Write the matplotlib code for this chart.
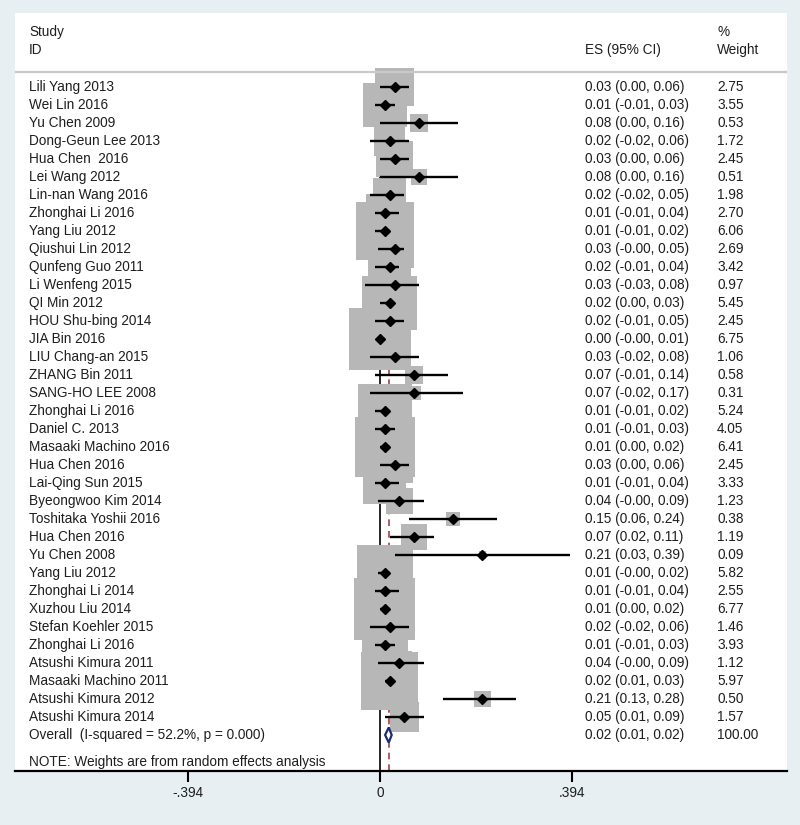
import matplotlib
matplotlib.use("Agg")
import matplotlib.pyplot as plt
from matplotlib.patches import Rectangle, Polygon
import numpy as np

plt.rcParams['font.family'] = ['Liberation Sans', 'DejaVu Sans']

studies = ['Lili Yang 2013', 'Wei Lin 2016', 'Yu Chen 2009', 'Dong-Geun Lee 2013',
           'Hua Chen  2016', 'Lei Wang 2012', 'Lin-nan Wang 2016', 'Zhonghai Li 2016',
           'Yang Liu 2012', 'Qiushui Lin 2012', 'Qunfeng Guo 2011', 'Li Wenfeng 2015',
           'QI Min 2012', 'HOU Shu-bing 2014', 'JIA Bin 2016', 'LIU Chang-an 2015',
           'ZHANG Bin 2011', 'SANG-HO LEE 2008', 'Zhonghai Li 2016', 'Daniel C. 2013',
           'Masaaki Machino 2016', 'Hua Chen 2016', 'Lai-Qing Sun 2015', 'Byeongwoo Kim 2014',
           'Toshitaka Yoshii 2016', 'Hua Chen 2016', 'Yu Chen 2008', 'Yang Liu 2012',
           'Zhonghai Li 2014', 'Xuzhou Liu 2014', 'Stefan Koehler 2015', 'Zhonghai Li 2016',
           'Atsushi Kimura 2011', 'Masaaki Machino 2011', 'Atsushi Kimura 2012',
           'Atsushi Kimura 2014']
es = [0.03, 0.01, 0.08, 0.02, 0.03, 0.08, 0.02, 0.01, 0.01, 0.03, 0.02, 0.03,
      0.02, 0.02, 0.00, 0.03, 0.07, 0.07, 0.01, 0.01, 0.01, 0.03, 0.01, 0.04,
      0.15, 0.07, 0.21, 0.01, 0.01, 0.01, 0.02, 0.01, 0.04, 0.02, 0.21, 0.05]
lo = [0.00, -0.01, 0.00, -0.02, 0.00, 0.00, -0.02, -0.01, -0.01, -0.004, -0.01, -0.03,
      0.00, -0.01, -0.004, -0.02, -0.01, -0.02, -0.01, -0.01, 0.00, 0.00, -0.01, -0.004,
      0.06, 0.02, 0.03, -0.004, -0.01, 0.00, -0.02, -0.01, -0.004, 0.01, 0.13, 0.01]
hi = [0.06, 0.03, 0.16, 0.06, 0.06, 0.16, 0.05, 0.04, 0.02, 0.05, 0.04, 0.08,
      0.03, 0.05, 0.01, 0.08, 0.14, 0.17, 0.02, 0.03, 0.02, 0.06, 0.04, 0.09,
      0.24, 0.11, 0.39, 0.02, 0.04, 0.02, 0.06, 0.03, 0.09, 0.03, 0.28, 0.09]
weight = [2.75, 3.55, 0.53, 1.72, 2.45, 0.51, 1.98, 2.70, 6.06, 2.69, 3.42, 0.97,
          5.45, 2.45, 6.75, 1.06, 0.58, 0.31, 5.24, 4.05, 6.41, 2.45, 3.33, 1.23,
          0.38, 1.19, 0.09, 5.82, 2.55, 6.77, 1.46, 3.93, 1.12, 5.97, 0.50, 1.57]

overall_label = 'Overall  (I-squared = 52.2%, p = 0.000)'
overall_es, overall_lo, overall_hi, overall_w = 0.018, 0.0105, 0.024, 100.00
xticks = [-0.394, 0, 0.394]
xticklabels = ['-.394', '0', '.394']

bg = '#e7eff2'
txt = '#1e1e1e'
fs = 9.8

fig = plt.figure(figsize=(8, 8.25), dpi=100, facecolor=bg)
# white plot region: x 15..787 px, y 13..771 px
ax = fig.add_axes([15 / 800, (825 - 771) / 825, 772 / 800, 758 / 825])
ax.set_facecolor('white')

px_per_x = 487.0   # pixels per unit effect size
px_per_row = 18.0
ax.set_xlim((15 - 380) / px_per_x, (787 - 380) / px_per_x)
ax.set_ylim((771 - 87) / px_per_row, (13 - 87) / px_per_row)

n = len(studies)
rows = np.arange(n)

# weight boxes (area proportional to weight), drawn over the reference lines
k = 23.5
for r, e, w in zip(rows, es, weight):
    side = k * np.sqrt(w)
    bw = side / px_per_x
    bh = side / px_per_row
    ax.add_patch(Rectangle((e - bw / 2, r - bh / 2), bw, bh,
                           facecolor='#b7b7b7', edgecolor='none', zorder=2))

# null line and overall line
ytop = -0.6
ybot = (771 - 87) / px_per_row
ax.plot([0, 0], [ytop, ybot], color='black', lw=1.2, zorder=1)
ax.plot([overall_es, overall_es], [ytop, ybot], color='#b03a48', lw=1.2,
        dashes=(4, 3), zorder=1)

# CIs and point estimates
ax.hlines(rows, lo, hi, color='black', lw=1.7, zorder=3)
ax.plot(es, rows, linestyle='none', marker='D', markersize=4.6, color='black', zorder=4)

# overall diamond
r_ov = n
dh = 0.42
ax.add_patch(Polygon([[overall_lo, r_ov], [overall_es, r_ov - dh],
                      [overall_hi, r_ov], [overall_es, r_ov + dh]],
                     closed=True, facecolor='white', edgecolor='#1c2a80', lw=1.6, zorder=5))

# text columns
x_id = (29 - 380) / px_per_x
x_es = (585 - 380) / px_per_x
x_w = (717 - 380) / px_per_x
for r, s, e, l, h, w in zip(rows, studies, es, lo, hi, weight):
    ax.text(x_id, r, s, fontsize=fs, color=txt, va='center')
    ax.text(x_es, r, f'{e:.2f} ({l:.2f}, {h:.2f})', fontsize=fs, color=txt, va='center')
    ax.text(x_w, r, f'{w:.2f}', fontsize=fs, color=txt, va='center')
ax.text(x_id, r_ov, overall_label, fontsize=fs, color=txt, va='center')
ax.text(x_es, r_ov, f'{overall_es:.2f} ({overall_lo:.2f}, {overall_hi:.2f})',
        fontsize=fs, color=txt, va='center')
ax.text(x_w, r_ov, f'{overall_w:.2f}', fontsize=fs, color=txt, va='center')
ax.text(x_id, (762 - 87) / px_per_row, 'NOTE: Weights are from random effects analysis',
        fontsize=fs, color=txt, va='center')

# header
y_h1 = (32 - 87) / px_per_row
y_h2 = (50 - 87) / px_per_row
ax.text(x_id, y_h1, 'Study', fontsize=fs, color=txt, va='center')
ax.text(x_id, y_h2, 'ID', fontsize=fs, color=txt, va='center')
ax.text(x_es, y_h2, 'ES (95% CI)', fontsize=fs, color=txt, va='center')
ax.text(x_w, y_h1, '%', fontsize=fs, color=txt, va='center')
ax.text(x_w, y_h2, 'Weight', fontsize=fs, color=txt, va='center')
ax.axhline((72 - 87) / px_per_row, color='#c9c9c9', lw=1.6)

# axis
for side in ['top', 'left', 'right']:
    ax.spines[side].set_visible(False)
ax.spines['bottom'].set_linewidth(1.6)
ax.set_yticks([])
ax.set_xticks(xticks)
ax.set_xticklabels(xticklabels, fontsize=fs, color=txt)
ax.tick_params(axis='x', length=8, width=1.5, pad=3)

fig.savefig('out.png', dpi=100, facecolor=bg)
